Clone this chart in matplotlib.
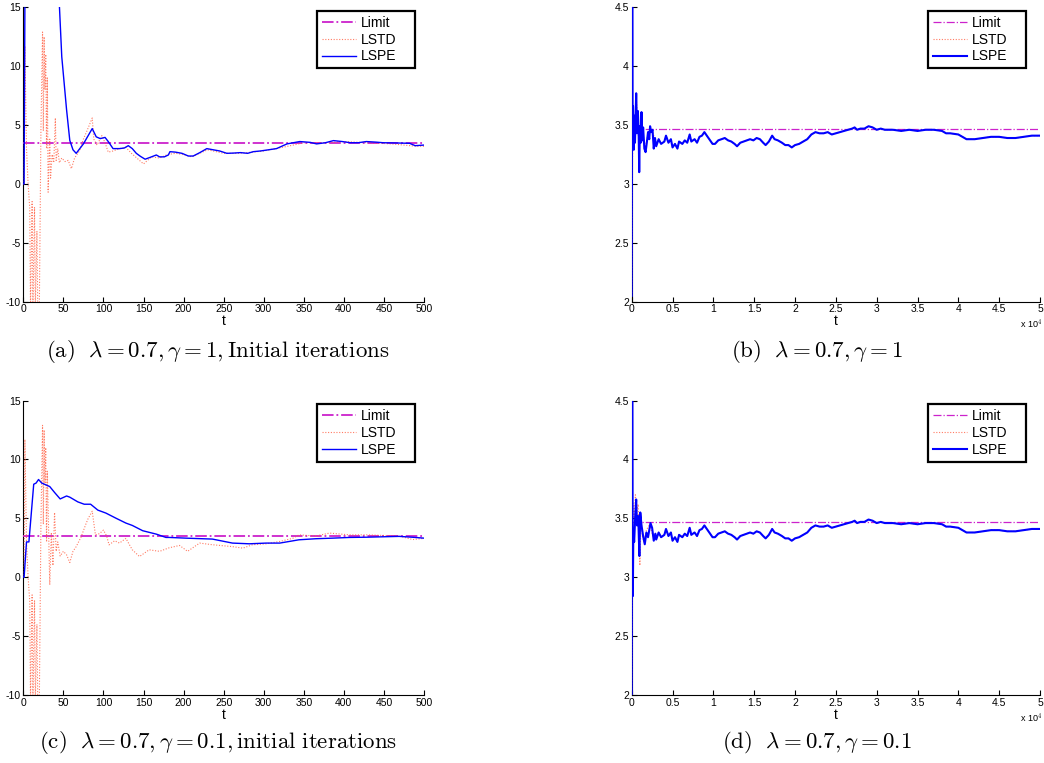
import matplotlib
matplotlib.use('Agg')
import matplotlib.pyplot as plt
from matplotlib.ticker import FormatStrFormatter

plt.rcParams['font.family'] = ['Liberation Sans', 'DejaVu Sans']
plt.rcParams['mathtext.fontset'] = 'cm'
plt.rcParams['axes.unicode_minus'] = False

limit_value = 3.465

# ---- (a) lambda=0.7, gamma=1, first 500 iterations ----
lspe_a_t = [0, 1, 2, 5, 15, 30, 45, 48, 54, 58, 62, 66, 75, 86, 91, 96, 102, 106, 112, 120,
            126, 131, 136, 141, 146, 152, 158, 166, 170, 176, 181, 183, 190, 198, 206, 212,
            220, 229, 237, 245, 254, 262, 271, 280, 287, 296, 304, 316, 329, 337, 345, 358,
            366, 377, 387, 398, 408, 418, 428, 440, 449, 465, 482, 489, 500]
lspe_a_v = [0, 0, 15.5, 40, 60, 40, 15.2, 10.8, 6.3, 3.7, 2.9, 2.6, 3.4, 4.7, 4.0, 3.85, 3.95,
            3.6, 3.0, 3.0, 3.05, 3.25, 3.0, 2.6, 2.35, 2.1, 2.25, 2.46, 2.3, 2.3, 2.46, 2.74,
            2.7, 2.6, 2.37, 2.37, 2.65, 3.0, 2.9, 2.8, 2.6, 2.62, 2.66, 2.6, 2.74, 2.8, 2.88,
            3.0, 3.4, 3.5, 3.6, 3.53, 3.4, 3.5, 3.68, 3.6, 3.5, 3.5, 3.6, 3.55, 3.5, 3.48,
            3.45, 3.25, 3.3]
lstd_a_t = [0, 1, 2, 4, 6, 8, 9, 11, 12, 14, 15, 17, 18, 20, 22, 24, 25, 26, 27, 28, 29, 30,
            31, 33, 34, 36, 38, 40, 41, 43, 45, 48, 52, 56, 60, 64, 70, 75, 80, 86, 88, 92,
            98, 102, 106, 112, 120, 128, 135, 145, 150, 160, 170, 180, 190, 200, 210, 230,
            250, 270, 300, 330, 350, 380, 400, 430, 460, 490, 500]
lstd_a_v = [0, 0, 11.7, 3, 0, -2, -10.5, -1.5, -10.5, -2, -10.5, -4, -10.5, -10.5, 4.6, 12.9,
            4.5, 12.5, 8, 11, 3, 9, -0.7, 3.8, 0.5, 2.5, 1.8, 5.6, 2.0, 3.0, 1.8, 2.2, 1.9,
            2.0, 1.3, 2.2, 2.8, 3.8, 4.6, 5.6, 3.8, 3.3, 4.1, 3.5, 2.7, 2.8, 3.0, 3.1, 2.6,
            2.0, 1.7, 2.3, 2.2, 2.5, 2.6, 2.5, 2.3, 2.9, 2.6, 2.6, 2.8, 3.2, 3.5, 3.5, 3.6,
            3.5, 3.4, 3.2, 3.2]

# ---- (c) lambda=0.7, gamma=0.1, first 500 iterations ----
lspe_c_t = [0, 1, 4, 7, 13, 16, 19, 23, 33, 39, 46, 54, 58, 68, 76, 84, 93, 103, 116, 128,
            136, 149, 166, 178, 182, 203, 236, 261, 282, 303, 320, 344, 365, 386, 407, 428,
            469, 485, 500]
lspe_c_v = [0, 0, 3.0, 3.0, 7.9, 8.0, 8.3, 8.0, 7.7, 7.2, 6.65, 6.9, 6.8, 6.4, 6.2, 6.2, 5.7,
            5.45, 5.0, 4.6, 4.4, 3.95, 3.66, 3.38, 3.38, 3.32, 3.24, 2.9, 2.84, 2.9, 2.9, 3.18,
            3.27, 3.32, 3.38, 3.4, 3.47, 3.4, 3.32]
lstd_c_t = [0, 1, 2, 4, 6, 8, 9, 11, 12, 14, 15, 17, 18, 20, 22, 24, 25, 26, 27, 28, 29, 30,
            33, 35, 37, 39, 41, 43, 46, 50, 54, 58, 62, 66, 72, 78, 81, 86, 90, 95, 100, 104,
            107, 114, 120, 128, 136, 145, 157, 170, 182, 195, 205, 220, 236, 261, 274, 286,
            303, 320, 336, 344, 365, 382, 407, 428, 449, 469, 486, 500]
lstd_c_v = [0, 0, 11.7, 3, 0, -2, -10.5, -1.5, -10.5, -2, -10.5, -4, -10.5, -10.5, 4.6, 12.9,
            4.5, 12.5, 8, 11, 3, 9, -0.65, 3.8, 1.0, 5.5, 2.2, 3.0, 1.8, 2.2, 1.9, 1.25, 2.2,
            2.6, 3.4, 4.5, 5.0, 5.6, 3.6, 3.7, 4.0, 3.5, 2.75, 3.1, 2.9, 3.3, 2.33, 1.76,
            2.33, 2.2, 2.5, 2.7, 2.2, 2.9, 2.76, 2.6, 2.47, 2.76, 2.84, 3.04, 3.3, 3.6, 3.5,
            3.75, 3.6, 3.6, 3.55, 3.5, 3.2, 3.3]

# ---- (b), (d): 5e4 iterations, t in units of 1e4 ----
late_t = [0.30, 0.33, 0.36, 0.40, 0.42, 0.45, 0.48, 0.50, 0.53, 0.56, 0.58, 0.62, 0.65, 0.68,
          0.71, 0.73, 0.77, 0.80, 0.83, 0.86, 0.89, 0.92, 0.95, 0.99, 1.02, 1.06, 1.10, 1.14,
          1.18, 1.22, 1.26, 1.29, 1.33, 1.37, 1.41, 1.45, 1.49, 1.53, 1.57, 1.61, 1.64, 1.68,
          1.72, 1.75, 1.79, 1.84, 1.88, 1.92, 1.96, 2.00, 2.05, 2.10, 2.15, 2.20, 2.25, 2.30,
          2.35, 2.40, 2.45, 2.50, 2.55, 2.60, 2.65, 2.70, 2.73, 2.76, 2.80, 2.85, 2.90, 2.95,
          3.00, 3.05, 3.10, 3.20, 3.30, 3.40, 3.50, 3.60, 3.70, 3.80, 3.85, 3.90, 4.00, 4.05,
          4.10, 4.15, 4.20, 4.30, 4.40, 4.50, 4.60, 4.70, 4.80, 4.90, 5.00]
late_v = [3.32, 3.38, 3.34, 3.36, 3.41, 3.35, 3.38, 3.31, 3.34, 3.30, 3.36, 3.34, 3.37, 3.35,
          3.42, 3.36, 3.38, 3.35, 3.40, 3.41, 3.44, 3.41, 3.38, 3.34, 3.34, 3.37, 3.38, 3.39,
          3.37, 3.36, 3.34, 3.32, 3.35, 3.36, 3.37, 3.38, 3.37, 3.39, 3.38, 3.35, 3.33, 3.36,
          3.41, 3.38, 3.37, 3.35, 3.33, 3.33, 3.31, 3.33, 3.34, 3.36, 3.38, 3.42, 3.44, 3.43,
          3.43, 3.44, 3.42, 3.43, 3.44, 3.45, 3.46, 3.47, 3.48, 3.46, 3.47, 3.47, 3.49, 3.48,
          3.46, 3.47, 3.46, 3.46, 3.45, 3.46, 3.45, 3.46, 3.46, 3.45, 3.43, 3.43, 3.42, 3.40,
          3.38, 3.38, 3.38, 3.39, 3.40, 3.40, 3.39, 3.39, 3.40, 3.41, 3.41]

lspe_b_t = [0.0, 0.006, 0.012, 0.016, 0.025, 0.030, 0.040, 0.055, 0.065, 0.075, 0.085, 0.092,
            0.100, 0.110, 0.120, 0.130, 0.140, 0.155, 0.170, 0.185, 0.200, 0.215, 0.225,
            0.240, 0.255, 0.270, 0.285]
lspe_b_v = [2.05, 4.8, 3.3, 3.66, 3.29, 3.58, 3.35, 3.77, 3.43, 3.62, 3.45, 3.10, 3.49, 3.35,
            3.61, 3.37, 3.48, 3.30, 3.27, 3.35, 3.44, 3.38, 3.49, 3.44, 3.46, 3.30, 3.39]
lstd_b_t = [0.0, 0.004, 0.010, 0.020, 0.040, 0.060, 0.090, 0.120, 0.160, 0.200, 0.250, 0.285]
lstd_b_v = [2.05, 2.4, 3.2, 3.6, 3.4, 3.7, 3.3, 3.55, 3.3, 3.42, 3.45, 3.38]

lspe_d_t = [0.0, 0.006, 0.014, 0.020, 0.030, 0.045, 0.055, 0.065, 0.080, 0.094, 0.105, 0.120,
            0.140, 0.160, 0.180, 0.200, 0.230, 0.250, 0.270, 0.290]
lspe_d_v = [2.0, 4.6, 2.84, 3.40, 3.30, 3.55, 3.66, 3.44, 3.52, 3.18, 3.55, 3.44, 3.35, 3.28,
            3.38, 3.34, 3.46, 3.42, 3.31, 3.37]
lstd_d_t = [0.0, 0.006, 0.015, 0.030, 0.045, 0.060, 0.080, 0.100, 0.115, 0.130, 0.150, 0.180,
            0.220, 0.260, 0.290]
lstd_d_v = [2.0, 2.5, 3.63, 3.5, 3.7, 3.55, 3.62, 3.10, 3.5, 3.35, 3.30, 3.40, 3.45, 3.35, 3.37]

captions = [r'$\mathrm{(a)}\ \ \lambda = 0.7, \gamma = 1, \mathrm{Initial\ iterations}$',
            r'$\mathrm{(b)}\ \ \lambda = 0.7, \gamma = 1$',
            r'$\mathrm{(c)}\ \ \lambda = 0.7, \gamma = 0.1, \mathrm{initial\ iterations}$',
            r'$\mathrm{(d)}\ \ \lambda = 0.7, \gamma = 0.1$']

W, H = 1044, 763
fig = plt.figure(figsize=(W / 100, H / 100), dpi=100)
tick_font = ['Liberation Sans Narrow', 'Liberation Sans']


def px_axes(x0, x1, y0, y1):
    return fig.add_axes([x0 / W, 1 - y1 / H, (x1 - x0) / W, (y1 - y0) / H])


def style(ax, wide):
    ax.spines['top'].set_visible(False)
    ax.spines['right'].set_visible(False)
    ax.tick_params(direction='in', length=3.5, width=0.8, labelsize=7.5, pad=2)
    ax.set_xlabel('t', fontsize=10, labelpad=0)
    if wide:
        ax.set_xlim(0, 5)
        ax.set_ylim(2, 4.5)
        ax.set_xticks([i * 0.5 for i in range(11)])
        ax.set_yticks([2, 2.5, 3, 3.5, 4, 4.5])
        ax.xaxis.set_major_formatter(FormatStrFormatter('%g'))
        ax.yaxis.set_major_formatter(FormatStrFormatter('%g'))
    else:
        ax.set_xlim(0, 500)
        ax.set_ylim(-10, 15)
        ax.set_xticks(range(0, 501, 50))
        ax.set_yticks(range(-10, 16, 5))
    for lab in ax.get_xticklabels() + ax.get_yticklabels():
        lab.set_family(tick_font)


def legend(ax, left, right, top):
    lg = ax.legend(loc='upper left', bbox_to_anchor=(left / W, 1 - top / H, (right - left) / W, 0),
                   bbox_transform=fig.transFigure, borderaxespad=0, mode='expand',
                   fontsize=10, fancybox=False, framealpha=1, handlelength=2.5,
                   handletextpad=0.35, labelspacing=0.2, borderpad=0.35)
    lg.get_frame().set_edgecolor('black')
    lg.get_frame().set_linewidth(1.6)


lim_col = '#cc22cc'
red = '#ff5a3c'
blue = '#0000ff'

panels = [
    ((23.3, 424, 7.3, 301.7), False, lspe_a_t, lspe_a_v, lstd_a_t, lstd_a_v, (316.7, 415, 11)),
    ((631.7, 1040, 7.3, 301.7), True, lspe_b_t + late_t, lspe_b_v + late_v,
     lstd_b_t + late_t, lstd_b_v + late_v, (927.7, 1025.7, 11)),
    ((23.3, 424, 400.6, 695), False, lspe_c_t, lspe_c_v, lstd_c_t, lstd_c_v, (316.7, 415, 404.3)),
    ((631.7, 1040, 400.6, 695), True, lspe_d_t + late_t, lspe_d_v + late_v,
     lstd_d_t + late_t, lstd_d_v + late_v, (927.7, 1025.7, 404.3)),
]

for box, wide, pt, pv, st, sv, leg in panels:
    ax = px_axes(*box)
    xmax = 5 if wide else 500
    ax.plot([0, xmax], [limit_value, limit_value], color=lim_col, ls='-.',
            lw=0.9 if wide else 1.3, label='Limit', zorder=3)
    ax.plot(st, sv, color=red, ls=(0, (1, 1.5)), lw=0.8, alpha=0.8, label='LSTD', zorder=3)
    ax.plot(pt, pv, color=blue, lw=1.5 if wide else 1.0, label='LSPE', zorder=3)
    style(ax, wide)
    legend(ax, *leg)
    if wide:
        fig.text(1042 / W, 1 - (box[3] + 23) / H, r'x 10$^4$', ha='right', va='center',
                 fontsize=6.5, family=tick_font)

cap_pos = [(218, 352), (817, 352), (218, 743), (817, 743)]
for (cx, cy), cap in zip(cap_pos, captions):
    fig.text(cx / W, 1 - cy / H, cap, ha='center', va='center', fontsize=16.5)

fig.savefig('out.png', dpi=100)
